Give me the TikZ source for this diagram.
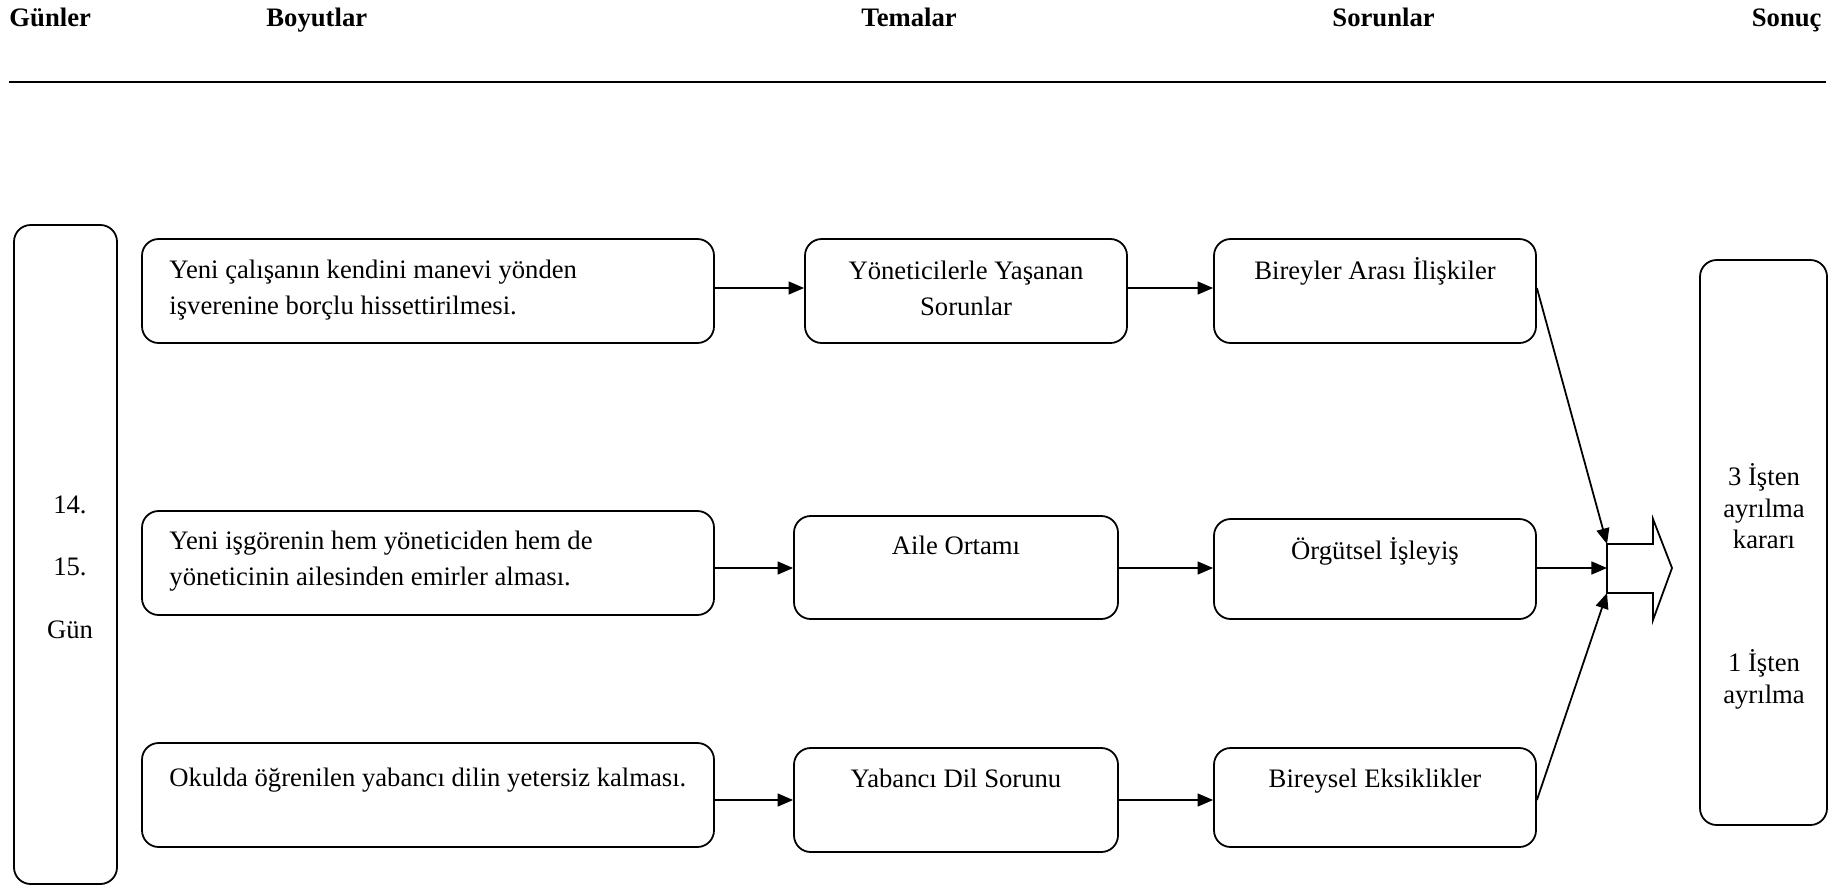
\documentclass[tikz,border=0pt]{standalone}
\usepackage{fontspec}
\setmainfont{Liberation Serif}
\usetikzlibrary{arrows.meta,fit}
\begin{document}
\begin{tikzpicture}[x=0.45pt,y=-0.45pt,
  box/.style={draw, line width=0.8pt, rounded corners=7.5pt, inner sep=0pt},
  txt/.style={inner sep=0pt, font=\fontsize{12}{16.2}\selectfont},
  head/.style={inner sep=0pt, font=\fontsize{12}{14}\selectfont\bfseries, anchor=base west},
  arr/.style={line width=0.8pt, -{Triangle[length=7pt,width=5.8pt]}},
  blk/.style={draw, line width=0.8pt, line join=miter}
]
\useasboundingbox (0,0) rectangle (1829,886);

% header
\node[head] (hg) at (9,26) {Günler};
\node[head] (hb) at (266,26) {Boyutlar};
\node[head] (ht) at (861,26) {Temalar};
\node[head] (hs) at (1332,26) {Sorunlar};
\node[head, anchor=base east] (hc) at (1822,26) {Sonuç};
\coordinate (ul1) at (9,82);
\coordinate (ul2) at (1826,82);
\draw[line width=0.8pt] (ul1) -- (ul2);

% boxes
\node[box, fit={(14,225) (117,884)}] (g) {};
\node[box, fit={(142,239) (714,343)}] (l1) {};
\node[box, fit={(142,511) (714,615)}] (l2) {};
\node[box, fit={(142,743) (714,847)}] (l3) {};
\node[box, fit={(805,239) (1127,343)}] (t1) {};
\node[box, fit={(794,516) (1118,619)}] (t2) {};
\node[box, fit={(794,748) (1118,852)}] (t3) {};
\node[box, fit={(1214,239) (1536,343)}] (p1) {};
\node[box, fit={(1214,519) (1536,619)}] (p2) {};
\node[box, fit={(1214,748) (1536,847)}] (p3) {};
\node[box, fit={(1700,260) (1827,825)}] (r) {};

% texts
\node[txt, anchor=north, align=center, font=\fontsize{12}{28.1}\selectfont] (gtx) at (70,469) {\strut 14.\\15.\\Gün};
\node[txt, anchor=north west, align=left] (l1tx) at (169,253) {\strut Yeni çalışanın kendini manevi yönden\\işverenine borçlu hissettirilmesi.};
\node[txt, anchor=north west, align=left] (l2tx) at (169,524) {\strut Yeni işgörenin hem yöneticiden hem de\\yöneticinin ailesinden emirler alması.};
\node[txt, anchor=base west] (l3tx) at (169,786) {Okulda öğrenilen yabancı dilin yetersiz kalması.};
\node[txt, anchor=north, align=center] (t1tx) at (966,254) {\strut Yöneticilerle Yaşanan\\Sorunlar};
\node[txt, anchor=base] (t2tx) at (956,554) {Aile Ortamı};
\node[txt, anchor=base] (t3tx) at (956,787) {Yabancı Dil Sorunu};
\node[txt, anchor=base] (p1tx) at (1375,279) {Bireyler Arası İlişkiler};
\node[txt, anchor=base] (p2tx) at (1375,559) {Örgütsel İşleyiş};
\node[txt, anchor=base] (p3tx) at (1375,787) {Bireysel Eksiklikler};
\node[txt, anchor=north, align=center, font=\fontsize{12}{14.2}\selectfont] (r1tx) at (1764,463) {\strut 3 İşten\\ayrılma\\kararı};
\node[txt, anchor=north, align=center, font=\fontsize{12}{14.2}\selectfont] (r2tx) at (1764,649) {\strut 1 İşten\\ayrılma};

% block arrow
\coordinate (batl) at (1607,544);
\coordinate (bal) at (1607,568);
\coordinate (babl) at (1607,593);
\draw[blk] (batl) -- (1653,544) -- (1653,519) -- (1672,568) -- (1653,620) -- (1653,593) -- (babl) -- cycle;

% row coordinates
\coordinate (y1) at (0,288);
\coordinate (y2) at (0,568);
\coordinate (y3) at (0,800);

% connectors
\draw[arr] (l1.east |- y1) -- (t1.west |- y1);
\draw[arr] (t1.east |- y1) -- (p1.west |- y1);
\draw[arr] (l2.east |- y2) -- (t2.west |- y2);
\draw[arr] (t2.east |- y2) -- (p2.west |- y2);
\draw[arr] (l3.east |- y3) -- (t3.west |- y3);
\draw[arr] (t3.east |- y3) -- (p3.west |- y3);
\draw[arr] (p1.east |- y1) -- (batl);
\draw[arr] (p2.east |- bal) -- (bal);
\draw[arr] (p3.east |- y3) -- (babl);
\end{tikzpicture}
\end{document}
